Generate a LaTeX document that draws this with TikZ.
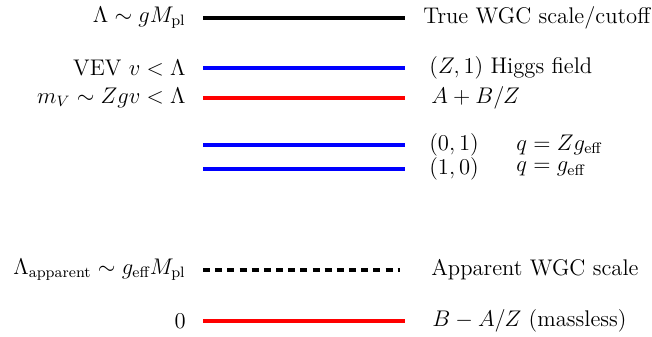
\documentclass[tikz,border=0pt,12pt]{standalone}
\usepackage{amsmath}
\definecolor{lblue}{RGB}{0,0,255}
\definecolor{lred}{RGB}{255,0,0}
\begin{document}
\begin{tikzpicture}[x=0.53pt,y=-0.53pt,
  level/.style={line width=1.6pt},
  llab/.style={anchor=east,inner sep=0pt},
  rlab/.style={anchor=west,inner sep=0pt}]
\useasboundingbox (0,0) rectangle (652,337);
% coordinates
\coordinate (a1) at (203,18);  \coordinate (a2) at (405,18);
\coordinate (b1) at (203,68);  \coordinate (b2) at (405,68);
\coordinate (c1) at (203,98);  \coordinate (c2) at (405,98);
\coordinate (d1) at (203,145); \coordinate (d2) at (405,145);
\coordinate (e1) at (203,169); \coordinate (e2) at (405,169);
\coordinate (f1) at (203,270); \coordinate (f2) at (400,270);
\coordinate (g1) at (203,321); \coordinate (g2) at (405,321);
% levels
\draw[level,black] (a1) -- (a2);
\draw[level,lblue] (b1) -- (b2);
\draw[level,lred] (c1) -- (c2);
\draw[level,lblue] (d1) -- (d2);
\draw[level,lblue] (e1) -- (e2);
\draw[level,black,dash pattern=on 3.75pt off 2.7pt] (f1) -- (f2);
\draw[level,lred] (g1) -- (g2);
% left labels
\node[llab] (la) at (186,18) {$\Lambda\sim gM_{\text{pl}}$};
\node[llab] (lb) at (186,68) {VEV $v<\Lambda$};
\node[llab] (lc) at (186,98) {$m_V\sim Zgv<\Lambda$};
\node[llab] (lf) at (186,270) {$\Lambda_{\text{apparent}}\sim g_{\text{eff}}M_{\text{pl}}$};
\node[llab] (lg) at (186,321) {$0$};
% right labels
\node[rlab] (ra) at (423,18) {True WGC scale/cutoff};
\node[rlab] (rb) at (429,68) {$(Z,1)$ Higgs field};
\node[rlab] (rc) at (431,98) {$A+B/Z$};
\node[rlab] (rd) at (429,145) {$(0,1)$};
\node[rlab] (rd2) at (516,145) {$q=Zg_{\text{eff}}$};
\node[rlab] (re) at (429,169) {$(1,0)$};
\node[rlab] (re2) at (516,169) {$q=g_{\text{eff}}$};
\node[rlab] (rf) at (431,270) {Apparent WGC scale};
\node[rlab] (rg) at (432,321) {$B-A/Z$ (massless)};
\end{tikzpicture}
\end{document}
